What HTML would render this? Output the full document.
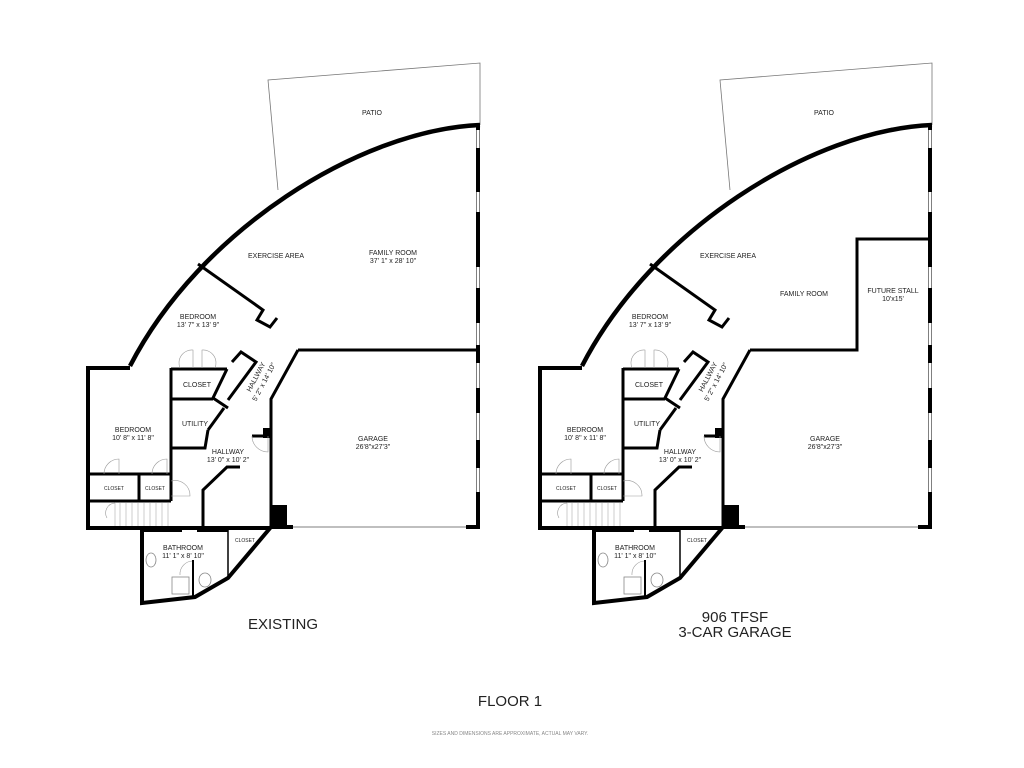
<!DOCTYPE html>
<html><head><meta charset="utf-8"><style>
html,body{margin:0;padding:0;background:#fff;}
svg{display:block;}
text{font-family:"Liberation Sans",sans-serif;fill:#222;text-anchor:middle;}
</style></head><body>
<svg width="1024" height="768" viewBox="0 0 1024 768" xmlns="http://www.w3.org/2000/svg">
<defs>
<g id="plan">
 <polyline points="278,190 268,80 480,63 480,125" fill="none" stroke="#777" stroke-width="0.8"/>
 <path d="M480,125 C360,130 200,230 130,366" fill="none" stroke="#000" stroke-width="4.5"/>
 <line x1="478" y1="124" x2="478" y2="528" stroke="#000" stroke-width="4"/>
 <g stroke="#fff" stroke-width="3">
  <line x1="478" y1="130" x2="478" y2="148"/><line x1="478" y1="192" x2="478" y2="212"/>
  <line x1="478" y1="267" x2="478" y2="288"/><line x1="478" y1="323" x2="478" y2="345"/>
  <line x1="478" y1="363" x2="478" y2="388"/><line x1="478" y1="413" x2="478" y2="440"/>
  <line x1="478" y1="468" x2="478" y2="492"/>
 </g>
 <polyline points="298,350 271,399 271,528" fill="none" stroke="#000" stroke-width="3"/>
 <line x1="271" y1="527" x2="293" y2="527" stroke="#000" stroke-width="4"/>
 <line x1="466" y1="527" x2="480" y2="527" stroke="#000" stroke-width="4"/>
 <line x1="293" y1="527" x2="466" y2="527" stroke="#999" stroke-width="1.2"/>
 <rect x="271" y="505" width="16" height="22" fill="#000"/>
 <rect x="263" y="428" width="8" height="10" fill="#000"/>
 <line x1="252" y1="436" x2="271" y2="436" stroke="#000" stroke-width="3"/>
 <polyline points="198,264 263,310 257,320 270,327 277,318" fill="none" stroke="#000" stroke-width="3"/>
 <polyline points="232,362 241,352 256,362 228,400" fill="none" stroke="#000" stroke-width="3"/>
 <polyline points="227,369 213,398 228,408" fill="none" stroke="#000" stroke-width="3"/>
 <line x1="208" y1="430" x2="224" y2="408" stroke="#000" stroke-width="3"/>
 <polyline points="130,368 88,368 88,528 271,528" fill="none" stroke="#000" stroke-width="4"/>
 <line x1="171" y1="369" x2="227" y2="369" stroke="#000" stroke-width="3"/>
 <line x1="171" y1="368" x2="171" y2="501" stroke="#000" stroke-width="3"/>
 <line x1="171" y1="399" x2="213" y2="399" stroke="#000" stroke-width="3"/>
 <polyline points="171,448 205,448 208,430" fill="none" stroke="#000" stroke-width="3"/>
 <line x1="88" y1="474" x2="171" y2="474" stroke="#000" stroke-width="3"/>
 <line x1="88" y1="501" x2="171" y2="501" stroke="#000" stroke-width="3"/>
 <line x1="139" y1="474" x2="139" y2="501" stroke="#000" stroke-width="3"/>
 <g fill="none" stroke="#999" stroke-width="0.6">
  <path d="M104,474 A15,15 0 0 1 119,459 L119,474"/>
  <path d="M152,474 A15,15 0 0 1 167,459 L167,474"/>
  <path d="M171,481 A15,15 0 0 1 190,496 L171,496"/>
  <path d="M180,368 A13,13 0 0 1 193,350 L193,368"/>
  <path d="M215,368 A13,13 0 0 0 202,350 L202,368"/>
  <path d="M252,436 A16,16 0 0 0 268,452 L268,436"/>
  <path d="M180,575 A13,13 0 0 1 193,561"/>
  <path d="M107,518 A10,10 0 0 1 115,503"/>
 </g>
 <g stroke="#aaa" stroke-width="0.6">
  <line x1="115" y1="503" x2="115" y2="526"/><line x1="120" y1="503" x2="120" y2="526"/>
  <line x1="126" y1="503" x2="126" y2="526"/><line x1="132" y1="503" x2="132" y2="526"/>
  <line x1="138" y1="503" x2="138" y2="526"/><line x1="144" y1="503" x2="144" y2="526"/>
  <line x1="150" y1="503" x2="150" y2="526"/><line x1="156" y1="503" x2="156" y2="526"/>
  <line x1="162" y1="503" x2="162" y2="526"/><line x1="168" y1="503" x2="168" y2="526"/>
 </g>
 <polyline points="203,527 203,490 227,467 240,467" fill="none" stroke="#000" stroke-width="3"/>
 <polyline points="142,527 142,603 195,597 228,578 271,527" fill="none" stroke="#000" stroke-width="4"/>
 <rect x="142" y="527" width="40" height="5" fill="#000"/>
 <rect x="197" y="527" width="31" height="5" fill="#000"/>
 <line x1="228" y1="527" x2="228" y2="578" stroke="#000" stroke-width="1.5"/>
 <line x1="193" y1="560" x2="193" y2="598" stroke="#000" stroke-width="2"/>
 <rect x="172" y="577" width="17" height="17" fill="none" stroke="#888" stroke-width="0.8"/>
 <ellipse cx="151" cy="560" rx="5" ry="7" fill="none" stroke="#888" stroke-width="0.8"/>
 <ellipse cx="205" cy="580" rx="6" ry="7" fill="none" stroke="#888" stroke-width="0.8"/>
</g>
</defs>

<use href="#plan"/>
<line x1="298" y1="350" x2="478" y2="350" stroke="#000" stroke-width="3"/>

<g transform="translate(452,0)"><use href="#plan"/></g>
<polyline points="750,350 857,350 857,239 930,239" fill="none" stroke="#000" stroke-width="3"/>

<g font-size="7">
 <text x="372" y="115">PATIO</text>
 <text x="276" y="258">EXERCISE AREA</text>
 <text x="393" y="255">FAMILY ROOM</text>
 <text x="393" y="263">37' 1" x 28' 10"</text>
 <text x="198" y="319">BEDROOM</text>
 <text x="198" y="327">13' 7" x 13' 9"</text>
 <text x="197" y="387">CLOSET</text>
 <text x="195" y="426">UTILITY</text>
 <text x="228" y="454">HALLWAY</text>
 <text x="228" y="462">13' 0" x 10' 2"</text>
 <text x="373" y="441">GARAGE</text>
 <text x="373" y="449">26'8"x27'3"</text>
 <text x="133" y="432">BEDROOM</text>
 <text x="133" y="440">10' 8" x 11' 8"</text>
 <text x="183" y="550">BATHROOM</text>
 <text x="183" y="558">11' 1" x 8' 10"</text>
 <text transform="translate(258,378) rotate(-62)">HALLWAY</text>
 <text transform="translate(266,383) rotate(-62)">5' 2" x 14' 10"</text>
 <g font-size="5"><text x="114" y="490">CLOSET</text><text x="155" y="490">CLOSET</text><text x="245" y="542">CLOSET</text></g>

 <text x="824" y="115">PATIO</text>
 <text x="728" y="258">EXERCISE AREA</text>
 <text x="804" y="296">FAMILY ROOM</text>
 <text x="893" y="293">FUTURE STALL</text>
 <text x="893" y="301">10'x15'</text>
 <text x="650" y="319">BEDROOM</text>
 <text x="650" y="327">13' 7" x 13' 9"</text>
 <text x="649" y="387">CLOSET</text>
 <text x="647" y="426">UTILITY</text>
 <text x="680" y="454">HALLWAY</text>
 <text x="680" y="462">13' 0" x 10' 2"</text>
 <text x="825" y="441">GARAGE</text>
 <text x="825" y="449">26'8"x27'3"</text>
 <text x="585" y="432">BEDROOM</text>
 <text x="585" y="440">10' 8" x 11' 8"</text>
 <text x="635" y="550">BATHROOM</text>
 <text x="635" y="558">11' 1" x 8' 10"</text>
 <text transform="translate(710,378) rotate(-62)">HALLWAY</text>
 <text transform="translate(718,383) rotate(-62)">5' 2" x 14' 10"</text>
 <g font-size="5"><text x="566" y="490">CLOSET</text><text x="607" y="490">CLOSET</text><text x="697" y="542">CLOSET</text></g>
</g>

<text x="283" y="629" font-size="15">EXISTING</text>
<text x="735" y="622" font-size="15">906 TFSF</text>
<text x="735" y="637" font-size="15">3-CAR GARAGE</text>
<text x="510" y="706" font-size="15">FLOOR 1</text>
<text x="510" y="735" font-size="5" style="fill:#888">SIZES AND DIMENSIONS ARE APPROXIMATE, ACTUAL MAY VARY.</text>
</svg>
</body></html>
